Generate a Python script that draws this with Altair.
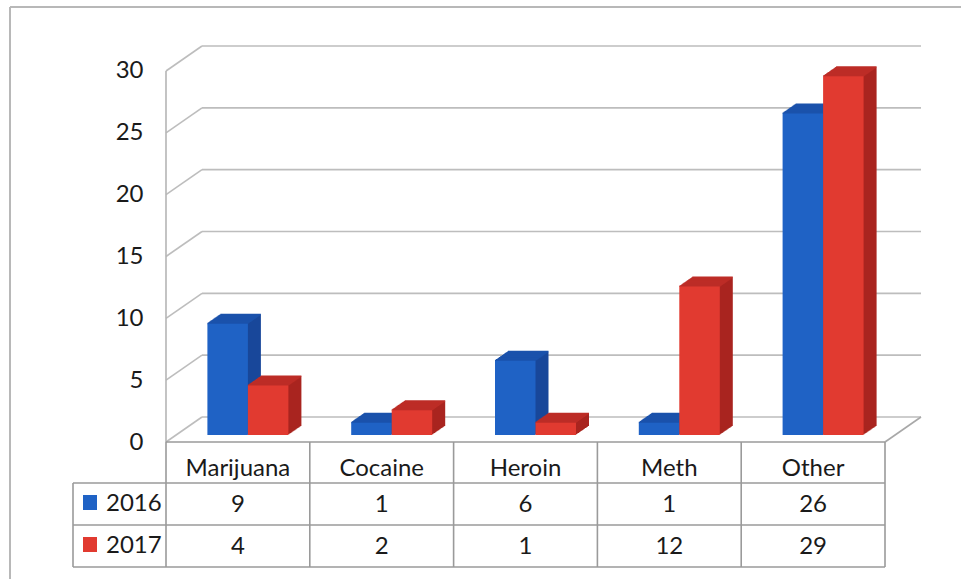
import altair as alt
import pandas as pd

# ---------------- data ----------------
categories = ["Marijuana", "Cocaine", "Heroin", "Meth", "Other"]
years = ["2016", "2017"]
values_2016 = [9, 1, 6, 1, 26]
values_2017 = [4, 2, 1, 12, 29]
y_ticks = [0, 5, 10, 15, 20, 25, 30]

front_colors = {"2016": "#1f62c5", "2017": "#e13a30"}
side_colors = {"2016": "#18479a", "2017": "#a9241f"}
top_colors = {"2016": "#1b52ab", "2017": "#bd2d27"}

# ---------------- layout helpers (pixels -> data units) ----------------
W, H = 961, 579
X0, Y0 = 166, 442          # front-left floor corner in pixels
UX = 143.8                 # pixels per category
UY = 12.367                # pixels per unit of value


def px2x(px):
    return (px - X0) / UX


def py2y(py):
    return (Y0 - py) / UY


xs = alt.Scale(domain=[0, (W - X0) / UX], nice=False, zero=False)
ys = alt.Scale(domain=[py2y(H), py2y(0)], nice=False, zero=False)

FONT = "Lato"
FS = 24
TXT = "#1a1a1a"

YAX = alt.Axis(values=y_ticks, domain=False, ticks=False, grid=False,
               labelFont=FONT, labelFontSize=FS, labelColor=TXT,
               labelPadding=23, title=None)

# 3D offsets
WALL_DX, WALL_DY = 36, -25
FRONT_DX, FRONT_DY = 10, -7
DEPTH_DX, DEPTH_DY = 13, -9
BW = 40.5 / UX


def enc_x(f="x"):
    return alt.X(f, type="quantitative", scale=xs, axis=None)


def enc_y(f="y"):
    return alt.Y(f, type="quantitative", scale=ys, axis=YAX)


def segs(rows, color, width, **off):
    df = pd.DataFrame(rows, columns=["x", "x2", "y", "y2"])
    return alt.Chart(df).mark_rule(color=color, strokeWidth=width, **off).encode(
        x=enc_x(), x2="x2", y=enc_y(), y2="y2"
    )


layers = []

# outer frame
layers.append(segs([
    (px2x(10), px2x(961), py2y(7), py2y(7)),
    (px2x(10), px2x(10), py2y(7), py2y(590)),
], "#b8b8b8", 2))

# back wall gridlines
grid_df = pd.DataFrame({"y": y_ticks, "x": [0] * len(y_ticks), "x2": [5] * len(y_ticks)})
layers.append(
    alt.Chart(grid_df).mark_rule(color="#bdbdbd", strokeWidth=1.6,
                                 xOffset=WALL_DX, x2Offset=WALL_DX,
                                 yOffset=WALL_DY, y2Offset=WALL_DY).encode(
        x=enc_x(), x2="x2", y=enc_y())
)

# left-wall diagonals
diag_df = pd.DataFrame({"y": y_ticks, "x": [0] * len(y_ticks)})
layers.append(
    alt.Chart(diag_df).mark_rule(color="#bdbdbd", strokeWidth=1.6,
                                 x2Offset=WALL_DX, y2Offset=WALL_DY).encode(
        x=enc_x(), x2="x", y=enc_y(), y2="y"
    )
)

# floor right diagonal + left wall vertical
layers.append(segs([(5, 5, 0, 0)], "#a8a8a8", 1.6, x2Offset=WALL_DX, y2Offset=WALL_DY))
layers.append(segs([(0, 0, 30, 0)], "#b5b5b5", 1.6))

# ---------------- bars ----------------
rows = []
for i, c in enumerate(categories):
    rows.append({"category": c, "year": "2016", "value": values_2016[i],
                 "x": i + 0.5 - BW, "x2": i + 0.5, "base": 0})
    rows.append({"category": c, "year": "2017", "value": values_2017[i],
                 "x": i + 0.5, "x2": i + 0.5 + BW, "base": 0})
bars = pd.DataFrame(rows)

N = 13
for yr in years:
    sub = bars[bars["year"] == yr]
    # side/depth sweep
    for k in range(1, N + 1):
        ox = FRONT_DX + k * DEPTH_DX / N
        oy = FRONT_DY + k * DEPTH_DY / N
        layers.append(
            alt.Chart(sub).mark_rect(color=side_colors[yr], xOffset=ox, x2Offset=ox,
                                     yOffset=oy, y2Offset=oy).encode(
                x=enc_x(), x2="x2", y=enc_y("value"), y2="base")
        )
    # top face
    for k in range(0, N + 1):
        ox = FRONT_DX + k * DEPTH_DX / N
        oy = FRONT_DY + k * DEPTH_DY / N
        layers.append(
            alt.Chart(sub).mark_rect(color=top_colors[yr], xOffset=ox, x2Offset=ox,
                                     yOffset=oy + 0.5, y2Offset=oy - 1.0).encode(
                x=enc_x(), x2="x2", y=enc_y("value"), y2="value")
        )
    # front face
    layers.append(
        alt.Chart(sub).mark_rect(color=front_colors[yr], xOffset=FRONT_DX, x2Offset=FRONT_DX,
                                 yOffset=FRONT_DY, y2Offset=FRONT_DY).encode(
            x=enc_x(), x2="x2", y=enc_y("value"), y2="base")
    )

# ---------------- data table ----------------
TL = "#9a9a9a"
r1, r2, r3 = py2y(483), py2y(525), py2y(567)
table_rows = [
    (0, 5, 0, 0),
    (px2x(73), 5, r1, r1),
    (px2x(73), 5, r2, r2),
    (px2x(73), 5, r3, r3),
    (px2x(73), px2x(73), r1, r3),
    (0, 0, 0, r3),
]
for i in range(1, 6):
    table_rows.append((i, i, 0, r3))
layers.append(segs(table_rows, TL, 1.6))

head_df = pd.DataFrame({"label": categories,
                        "x": [i + 0.5 for i in range(len(categories))],
                        "y": [py2y(469)] * len(categories)})
layers.append(alt.Chart(head_df).mark_text(font=FONT, fontSize=FS, color=TXT,
                                           align="center", baseline="middle").encode(
    x=enc_x(), y=enc_y(), text="label"))

val_rows = []
for i in range(len(categories)):
    val_rows.append({"x": i + 0.5, "y": py2y(505), "label": str(values_2016[i])})
    val_rows.append({"x": i + 0.5, "y": py2y(547), "label": str(values_2017[i])})
layers.append(alt.Chart(pd.DataFrame(val_rows)).mark_text(
    font=FONT, fontSize=FS, color=TXT, align="center", baseline="middle").encode(
    x=enc_x(), y=enc_y(), text="label"))

# legend keys in the table
leg_df = pd.DataFrame({
    "year": years,
    "x": [px2x(83)] * 2, "x2": [px2x(97)] * 2,
    "y": [py2y(495), py2y(537)], "y2": [py2y(510), py2y(552)],
    "ty": [py2y(504), py2y(546)], "tx": [px2x(106)] * 2,
})
layers.append(alt.Chart(leg_df).mark_rect().encode(
    x=enc_x(), x2="x2", y=enc_y(), y2="y2",
    color=alt.Color("year:N", scale=alt.Scale(domain=years,
                                              range=[front_colors[y] for y in years]),
                    legend=None)))
layers.append(alt.Chart(leg_df).mark_text(font=FONT, fontSize=FS, color=TXT,
                                          align="left", baseline="middle").encode(
    x=enc_x("tx"), y=enc_y("ty"), text="year"))

chart = alt.layer(*layers).properties(
    width=W - X0, height=H,
    padding={"left": X0, "top": 0, "right": 0, "bottom": 0},
    autosize=alt.AutoSizeParams(type="none"),
    background="white",
).configure_view(stroke=None)

chart.save("out.html", embed_options={"renderer": "svg", "actions": False})
